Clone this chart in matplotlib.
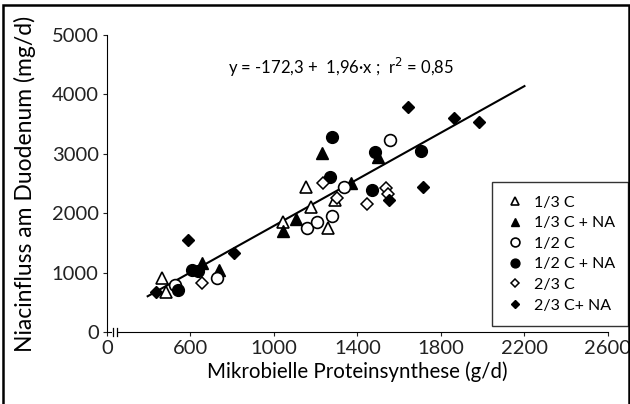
import matplotlib.pyplot as plt
import matplotlib.patches as patches

plt.rcParams['font.family'] = ['Lato', 'DejaVu Sans']

# data (x: g/d, y: mg/d)
c13_x = [465, 481, 1045, 1152, 1176, 1260, 1292]
c13_y = [903, 678, 1857, 2435, 2110, 1745, 2222]
c13na_x = [654, 736, 1041, 1105, 1228, 1370, 1500]
c13na_y = [1160, 1040, 1705, 1897, 3008, 2510, 2950]
c12_x = [526, 725, 1156, 1207, 1276, 1337, 1556]
c12_y = [790, 910, 1745, 1857, 1957, 2446, 3231]
c12na_x = [542, 605, 635, 1276, 1270, 1470, 1485, 1705]
c12na_y = [710, 1045, 1020, 3277, 2614, 2395, 3035, 3055]
c23_x = [657, 1233, 1303, 1444, 1535, 1545]
c23_y = [830, 2502, 2260, 2160, 2430, 2330]
c23na_x = [435, 590, 810, 1552, 1643, 1712, 1864, 1982]
c23na_y = [678, 1550, 1324, 2228, 3781, 2446, 3607, 3534]

intercept = -172.3
slope = 1.96
fit_x = [395, 2200]

xticks = [200, 600, 1000, 1400, 1800, 2200, 2600]
xticklabels = ['0', '600', '1000', '1400', '1800', '2200', '2600']
yticks = [0, 1000, 2000, 3000, 4000, 5000]

fig = plt.figure(figsize=(6.3, 4.04), dpi=100)
ax = fig.add_axes([0.1698, 0.1782, 0.7952, 0.7352])

fy = [intercept + slope * v for v in fit_x]
ax.plot(fit_x, fy, color='black', lw=1.5, zorder=1)

ax.plot(c13_x, c13_y, '^', ms=8, mfc='white', mec='black', mew=1.2, ls='none', label='1/3 C')
ax.plot(c13na_x, c13na_y, '^', ms=8, mfc='black', mec='black', ls='none', label='1/3 C + NA')
ax.plot(c12_x, c12_y, 'o', ms=8.5, mfc='white', mec='black', mew=1.2, ls='none', label='1/2 C')
ax.plot(c12na_x, c12na_y, 'o', ms=8.5, mfc='black', mec='black', ls='none', label='1/2 C + NA')
ax.plot(c23_x, c23_y, 'D', ms=6, mfc='white', mec='black', mew=1.1, ls='none', label='2/3 C')
ax.plot(c23na_x, c23na_y, 'D', ms=6, mfc='black', mec='black', ls='none', label='2/3 C+ NA')

ax.set_xlim(200, 2600)
ax.set_ylim(0, 5000)
ax.set_xticks(xticks)
ax.set_xticklabels(xticklabels)
ax.set_yticks(yticks)
ax.spines['top'].set_visible(False)
ax.spines['right'].set_visible(False)
ax.tick_params(direction='out', length=3, width=0.8, labelsize=14.5, pad=3, colors='#222222')
ax.set_xlabel('Mikrobielle Proteinsynthese (g/d)', fontsize=14.8, labelpad=3)
ax.set_ylabel('Niacinfluss am Duodenum (mg/d)', fontsize=16.5, labelpad=11)

# axis break marks
ax.add_patch(patches.Rectangle((226, -60), 26, 120, transform=ax.transData,
                               facecolor='white', edgecolor='none', clip_on=False, zorder=3))
for bx in [228, 250]:
    ax.plot([bx, bx], [-60, 60], color='black', lw=0.9, clip_on=False, zorder=4)

ax.text(1321, 4460, 'y = -172,3 +  1,96·x ;  r$^2$ = 0,85', fontsize=12, ha='center', va='center')

leg = ax.legend(loc='upper left', bbox_to_anchor=(492 / 630, 1 - 182 / 404),
                bbox_transform=fig.transFigure, fontsize=11.5, frameon=True,
                fancybox=False, edgecolor='black', handlelength=1.2, handletextpad=0.55,
                labelspacing=0.4, borderpad=0.85, borderaxespad=0, markerscale=0.75)
leg.get_frame().set_linewidth(1.0)

fig.patches.append(patches.Rectangle((3 / 630, -0.01), 626 / 630, 1 - 5 / 404 + 0.01,
                                     transform=fig.transFigure, fill=False,
                                     edgecolor='black', lw=1.8))

plt.savefig('out.png', dpi=100)
